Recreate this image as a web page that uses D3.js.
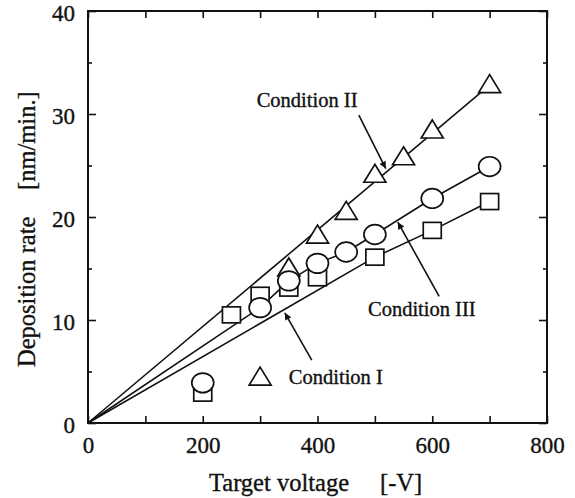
<!DOCTYPE html>
<html><head><meta charset="utf-8">
<script src="https://cdn.jsdelivr.net/npm/d3@7/dist/d3.min.js"></script>
<style>
body{margin:0;background:#fff}
svg{display:block}
text{font-family:"Liberation Serif","Times New Roman",serif;fill:#111;stroke:#111;stroke-width:0.35}
</style>
</head><body>
<svg id="chart" width="575" height="498"></svg>
<script>
// ---- data ----
const xTickValues = [0,100,200,300,400,500,600,700,800];
const xLabelValues = [0,200,400,600,800];
const yTickValues = [0,5,10,15,20,25,30,35,40];
const yLabelValues = [0,10,20,30,40];

// Condition I (squares)
const condIVoltage = [200,250,300,350,400,500,600,700];
const condIRate    = [2.9,10.5,12.4,13.1,14.1,16.1,18.7,21.5];
const condILineVoltage = [500,600,700];
// Condition II (triangles)
const condIIVoltage = [300,350,400,450,500,550,600,700];
const condIIRate    = [4.4,15.0,18.2,20.5,24.1,25.8,28.4,32.8];
const condIILineVoltage = [700];
// Condition III (circles)
const condIIIVoltage = [200,300,350,400,450,500,600,700];
const condIIIRate    = [3.9,11.2,13.8,15.5,16.6,18.3,21.8,24.9];
const condIIILineVoltage = [300,350,400,450,500,600,700];

const labels = ["Condition I","Condition II","Condition III"];
// annotation anchors in data units: text position, arrow start, arrow tip
const annText  = [[350,3.8],[294,30.7],[488,10.4]];
const annFrom  = [[390,6.1],[472,29.9],[612,12.3]];
const annTo    = [[343,10.7],[519,24.7],[540,19.5]];

const xTitle = "Target voltage", xUnit = "[-V]";
const yTitle = "Deposition rate", yUnit = "[nm/min.]";

// ---- layout ----
const svg = d3.select("#chart");
const L = 88, R = 547, T = 11, B = 423;
const x = d3.scaleLinear().domain([0,800]).range([L,R]);
const y = d3.scaleLinear().domain([0,40]).range([B,T]);

// lines
const lineGen = d3.line().x(d=>x(d[0])).y(d=>y(d[1]));
function linePts(vs, rs, lv){
  const pts=[[0,0]];
  lv.forEach(v=>{const i=vs.indexOf(v); pts.push([v, rs[i]]);});
  return pts;
}
const lineG = svg.append("g").attr("fill","none").attr("stroke","#111").attr("stroke-width",1.6);
lineG.append("path").attr("d", lineGen(linePts(condIIVoltage,condIIRate,condIILineVoltage)));
lineG.append("path").attr("d", lineGen(linePts(condIIIVoltage,condIIIRate,condIIILineVoltage)));
lineG.append("path").attr("d", lineGen(linePts(condIVoltage,condIRate,condILineVoltage)));

// axes (ticks inward)
const fmt = d => xLabelValues.includes(d) ? d : "";
const xb = svg.append("g").attr("transform",`translate(0,${B})`)
  .call(d3.axisBottom(x).tickValues(xTickValues).tickSize(-7).tickFormat(fmt));
svg.append("g").attr("transform",`translate(0,${T})`)
  .call(d3.axisTop(x).tickValues(xTickValues).tickSize(-7).tickFormat(""));
const yMajor = yTickValues.filter(v=>yLabelValues.includes(v));
const yMinor = yTickValues.filter(v=>!yLabelValues.includes(v));
const yl = svg.append("g").attr("transform",`translate(${L},0)`)
  .call(d3.axisLeft(y).tickValues(yMajor).tickSize(-8).tickFormat(d=>d));
svg.append("g").attr("transform",`translate(${L},0)`)
  .call(d3.axisLeft(y).tickValues(yMinor).tickSize(-4).tickFormat(""));
svg.append("g").attr("transform",`translate(${R},0)`)
  .call(d3.axisRight(y).tickValues(yMajor).tickSize(-8).tickFormat(""));
svg.append("g").attr("transform",`translate(${R},0)`)
  .call(d3.axisRight(y).tickValues(yMinor).tickSize(-4).tickFormat(""));
svg.selectAll(".domain").remove();
svg.selectAll(".tick line").attr("stroke","#111").attr("stroke-width",1.6);
xb.selectAll("text").attr("y",null).attr("dy",null).attr("transform","translate(0,30)")
  .attr("font-size",23).attr("fill","#111").attr("font-family",null);
yl.selectAll("text").attr("x",-13).attr("dy",null).attr("transform","translate(0,9)")
  .attr("font-size",23).attr("fill","#111").attr("font-family",null);

// frame
svg.append("rect").attr("x",L).attr("y",T).attr("width",R-L).attr("height",B-T)
  .attr("fill","none").attr("stroke","#111").attr("stroke-width",2);

// markers (triangles, then squares, circles on top)
const mk = svg.append("g").attr("fill","#fff").attr("stroke","#111").attr("stroke-width",1.7);
mk.selectAll(".tri").data(condIIVoltage.map((v,i)=>[v,condIIRate[i]])).join("path")
  .attr("d","M0,-10.5L11,7.5L-11,7.5Z")
  .attr("transform",d=>`translate(${x(d[0])},${y(d[1])})`);
mk.selectAll(".sq").data(condIVoltage.map((v,i)=>[v,condIRate[i]])).join("rect")
  .attr("x",d=>x(d[0])-9).attr("y",d=>y(d[1])-8).attr("width",18).attr("height",16);
mk.selectAll(".ci").data(condIIIVoltage.map((v,i)=>[v,condIIIRate[i]])).join("ellipse")
  .attr("cx",d=>x(d[0])).attr("cy",d=>y(d[1])).attr("rx",11).attr("ry",9.8);

// annotations
svg.append("defs").append("marker").attr("id","ah").attr("viewBox","0 0 10 10")
  .attr("refX",10).attr("refY",5).attr("markerWidth",10).attr("markerHeight",7)
  .attr("markerUnits","userSpaceOnUse").attr("orient","auto")
  .append("path").attr("d","M0,0L10,5L0,10Z").attr("fill","#111");
labels.forEach((t,i)=>{
  svg.append("line").attr("x1",x(annFrom[i][0])).attr("y1",y(annFrom[i][1]))
    .attr("x2",x(annTo[i][0])).attr("y2",y(annTo[i][1]))
    .attr("stroke","#111").attr("stroke-width",1.6).attr("marker-end","url(#ah)");
  svg.append("text").attr("x",x(annText[i][0])).attr("y",y(annText[i][1]))
    .attr("font-size",20.5).text(t);
});

// axis titles
svg.append("text").attr("x",209).attr("y",491).attr("font-size",24.5).text(xTitle);
svg.append("text").attr("x",380).attr("y",491).attr("font-size",24.5).text(xUnit);
svg.append("text").attr("transform","translate(35,367) rotate(-90)").attr("font-size",24.5).text(yTitle);
svg.append("text").attr("transform","translate(35,190) rotate(-90)").attr("font-size",24.5).text(yUnit);
</script>
</body></html>
